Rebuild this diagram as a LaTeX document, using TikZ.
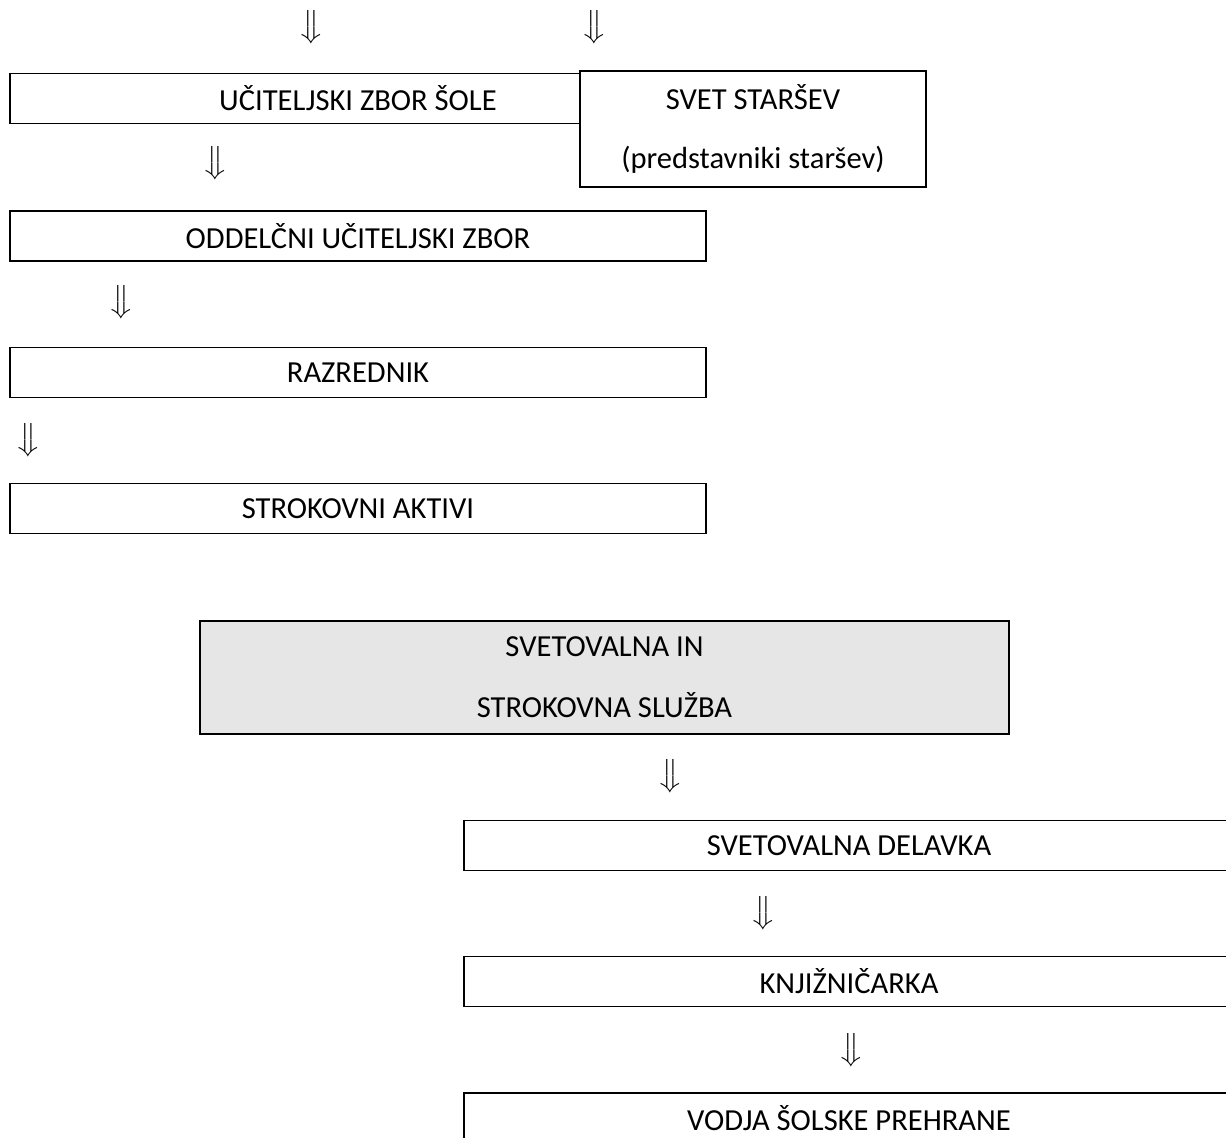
\documentclass[tikz,border=0pt]{standalone}
\usepackage{fontspec}
\setmainfont{Carlito}
\definecolor{sluzbasiva}{HTML}{E6E6E6}
\tikzset{
	okvir/.style={draw, line width=0.7pt, inner sep=0pt, minimum height=50*0.36pt, font=\fontsize{11}{13}\selectfont},
	puscica/.style={inner sep=0pt, text height=7.5pt, text depth=2pt, font=\fontsize{11}{13}\selectfont},
}
\begin{document}
\begin{tikzpicture}[x=0.36pt, y=-0.36pt]
	\useasboundingbox (0,0) rectangle (1226,1137);
	\clip (0,0) rectangle (1226,1137);
	% levi stolpec
	\node[okvir, minimum width=696*0.36pt] (zbor) at (358,98.5) {UČITELJSKI ZBOR ŠOLE};
	\node[okvir, fill=white, align=center, minimum width=346*0.36pt, minimum height=116*0.36pt] (svet) at (753,129) {SVET STARŠEV\\[8pt](predstavniki staršev)};
	\node[okvir, minimum width=696*0.36pt] (oddelcni) at (358,236) {ODDELČNI UČITELJSKI ZBOR};
	\node[okvir, minimum width=696*0.36pt] (razrednik) at (358,372.5) {RAZREDNIK};
	\node[okvir, minimum width=696*0.36pt] (aktivi) at (358,508.5) {STROKOVNI AKTIVI};
	% strokovna sluzba
	\node[okvir, fill=sluzbasiva, align=center, minimum width=809*0.36pt, minimum height=113*0.36pt] (sluzba) at (604.5,677.5) {SVETOVALNA IN\\[9pt]STROKOVNA SLUŽBA};
	\node[okvir, minimum width=770*0.36pt] (delavka) at (849,845.5) {SVETOVALNA DELAVKA};
	\node[okvir, minimum width=770*0.36pt] (knjiznicarka) at (849,981.5) {KNJIŽNIČARKA};
	\node[okvir, minimum width=770*0.36pt] (prehrana) at (849,1118) {VODJA ŠOLSKE PREHRANE};
	% puscice
	\node[puscica] (p1) at (311,27) {$\big\Downarrow$};
	\node[puscica] (p2) at (594,27) {$\big\Downarrow$};
	\node[puscica] (p3) at (215,163) {$\big\Downarrow$};
	\node[puscica] (p4) at (121,302) {$\big\Downarrow$};
	\node[puscica] (p5) at (28,440) {$\big\Downarrow$};
	\node[puscica] (p6) at (670,776) {$\big\Downarrow$};
	\node[puscica] (p7) at (763,913) {$\big\Downarrow$};
	\node[puscica] (p8) at (851,1050) {$\big\Downarrow$};
\end{tikzpicture}
\end{document}
